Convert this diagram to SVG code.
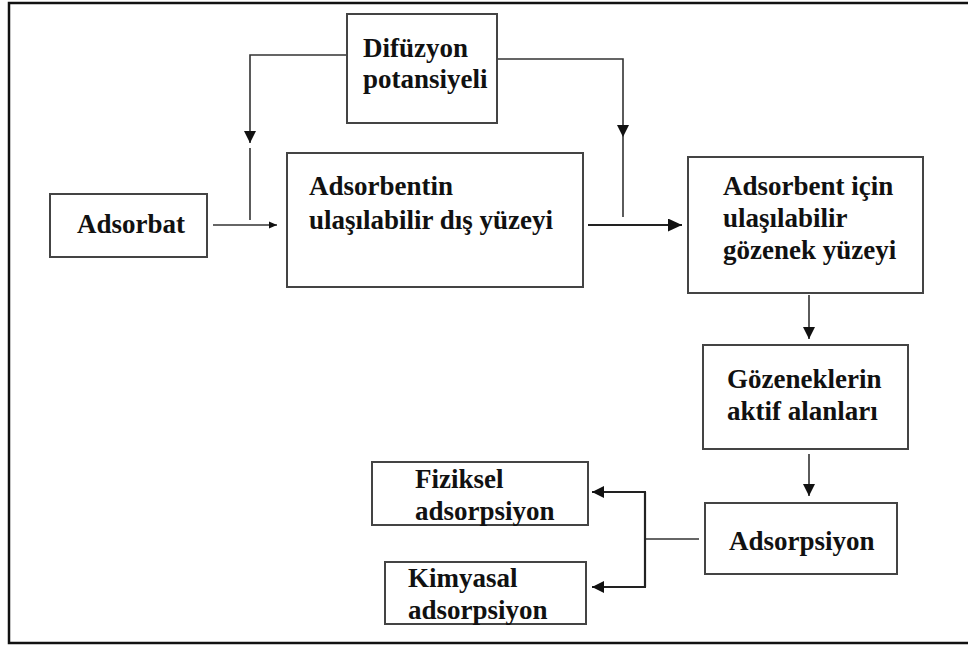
<svg xmlns="http://www.w3.org/2000/svg" width="968" height="646" viewBox="0 0 968 646">
<style>
.box{fill:#fff;stroke:#444;stroke-width:2}
.t{font-family:"Liberation Serif","Times New Roman",serif;font-weight:bold;font-size:27px;fill:#111}
.c{fill:none;stroke:#333;stroke-width:1.6}
.c2{fill:none;stroke:#222;stroke-width:2.2}
</style>
<defs>
<marker id="ah" markerUnits="userSpaceOnUse" markerWidth="14" markerHeight="12" refX="12" refY="6" orient="auto">
<path d="M0,0 L12,6 L0,12 Z" fill="#111"/>
</marker>
<marker id="ahs" markerUnits="userSpaceOnUse" markerWidth="10" markerHeight="10" refX="8" refY="4" orient="auto">
<path d="M0,0.5 L8,4 L0,7.5 Z" fill="#111"/>
</marker>
<marker id="ahl" markerUnits="userSpaceOnUse" markerWidth="16" markerHeight="14" refX="14" refY="6.5" orient="auto">
<path d="M0,0 L14,6.5 L0,13 Z" fill="#111"/>
</marker>
</defs>
<path d="M968,3 H9 V643 H968" fill="none" stroke="#111" stroke-width="2.5"/>
<g id="connectors">
<path class="c" d="M347,55 H250 V143" marker-end="url(#ah)"/>
<path class="c" d="M250,148 V220"/>
<path class="c" d="M497,59 H623 V137" marker-end="url(#ah)"/>
<path class="c" d="M623,137 V217"/>
<path class="c" d="M213,225 H277" marker-end="url(#ahs)"/>
<path class="c2" d="M588,225 H682" marker-end="url(#ahl)"/>
<path class="c" d="M809,295 V339" marker-end="url(#ah)"/>
<path class="c" d="M809,454 V496" marker-end="url(#ah)"/>
<path class="c" d="M699,539 H645"/>
<path class="c2" d="M645,492 V587"/>
<path class="c2" d="M646,492 H592" marker-end="url(#ah)"/>
<path class="c2" d="M646,587 H592" marker-end="url(#ah)"/>
</g>
<g id="difuzyon">
<rect class="box" x="347" y="14" width="150" height="109"/>
<text class="t" x="363" y="57">Difüzyon</text>
<text class="t" x="363" y="88">potansiyeli</text>
</g>
<g id="adsorbat">
<rect class="box" x="50" y="194" width="157" height="63"/>
<text class="t" x="77" y="233">Adsorbat</text>
</g>
<g id="adsorbentin">
<rect class="box" x="287" y="153" width="296" height="134"/>
<text class="t" x="309" y="195">Adsorbentin</text>
<text class="t" x="309" y="229">ulaşılabilir dış yüzeyi</text>
</g>
<g id="adsorbent-icin">
<rect class="box" x="688" y="157" width="235" height="136"/>
<text class="t" x="723" y="195">Adsorbent için</text>
<text class="t" x="723" y="227">ulaşılabilir</text>
<text class="t" x="723" y="259">gözenek yüzeyi</text>
</g>
<g id="gozeneklerin">
<rect class="box" x="703" y="345" width="205" height="104"/>
<text class="t" x="727" y="388">Gözeneklerin</text>
<text class="t" x="727" y="420">aktif alanları</text>
</g>
<g id="adsorpsiyon">
<rect class="box" x="705" y="503" width="192" height="71"/>
<text class="t" x="729" y="550">Adsorpsiyon</text>
</g>
<g id="fiziksel">
<rect class="box" x="372" y="462" width="216" height="63"/>
<text class="t" x="415" y="488">Fiziksel</text>
<text class="t" x="415" y="520">adsorpsiyon</text>
</g>
<g id="kimyasal">
<rect class="box" x="385" y="562" width="201" height="62"/>
<text class="t" x="408" y="587">Kimyasal</text>
<text class="t" x="408" y="619">adsorpsiyon</text>
</g>
</svg>
